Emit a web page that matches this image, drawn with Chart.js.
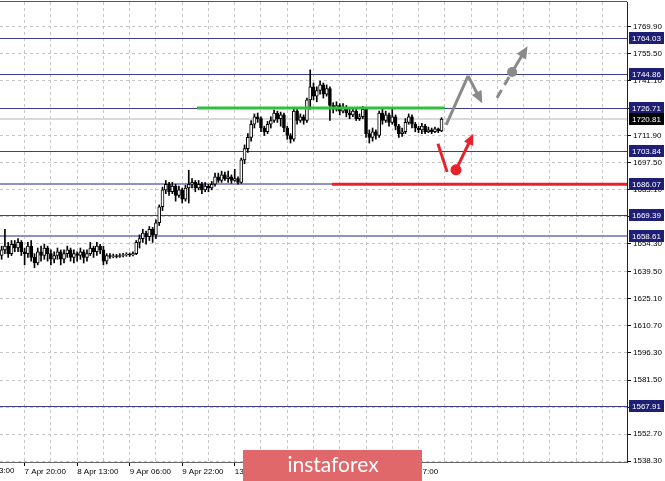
<!DOCTYPE html>
<html>
<head>
<meta charset="utf-8">
<script src="https://cdn.jsdelivr.net/npm/chart.js@4.4.0/dist/chart.umd.min.js"></script>
<style>
  html, body { margin: 0; padding: 0; background: #fff; overflow: hidden; }
  canvas { display: block; }
</style>
</head>
<body>
<canvas id="chart" width="665" height="481"></canvas>
<script>
// Hourly candles (135 bars)
const opens = [
  1648,1651,1653,1649,1654,1652,1655,1650,1649,1653,
  1647,1644,1650,1648,1652,1649,1646,1648,1650,1646,
  1649,1651,1647,1649,1648,1650,1647,1649,1652,1650,
  1653,1651,1645,1648,1647.5,1647.9,1647.5,1648,1648.4,1648.8,
  1648.3,1649,1655,1657,1660,1658,1662,1659,1665.5,1674,
  1683,1686,1682,1685,1680,1683,1678,1684,1686,1687,
  1684,1686,1683,1685,1684,1686,1690,1688,1691,1689,
  1690,1688,1689,1687,1699,1705,1711,1718,1722,1721,
  1716,1714,1718,1720,1724,1721,1723,1716,1712,1710,
  1725,1720,1722,1720,1731,1738,1733,1736,1739,1734,
  1737,1728,1726,1728,1725,1727,1724,1723,1725,1721,
  1722,1726,1713,1711,1714,1712,1724,1720,1723,1719,
  1722,1717,1713,1714,1719,1722,1718,1716,1715,1717,
  1714,1715,1714,1715.5,1714.5
];
const highs = [
  1653,1662,1655,1656,1656,1657,1656,1652,1655,1656,
  1649,1652,1653,1654,1653,1651,1650,1652,1651,1651,
  1653,1652,1651,1650,1652,1651,1651,1655,1653,1655,
  1654,1653,1649,1649,1648.8,1648.6,1649,1649.2,1649.5,1649.4,
  1650,1656,1659,1662,1661,1663.5,1663,1667,1675,1684.5,
  1688,1687,1687,1686,1685,1684,1685.5,1693.5,1689,1688,
  1688,1687,1687,1686,1687.5,1692,1692,1693,1692.5,1693,
  1691,1694,1690,1700,1707,1713,1720,1723.5,1724,1722,
  1717,1719.5,1722,1725.5,1725,1724.5,1724,1717,1713,1726,
  1726,1723.5,1723,1732,1747,1740,1738,1741,1740,1739,
  1738,1729.5,1730,1729,1729,1728,1726,1727,1726,1723.5,
  1727.5,1727,1715,1716,1715,1725,1726.5,1725,1724,1726.5,
  1723,1718,1716,1721,1723.5,1723,1719,1717,1718.5,1718,
  1716.5,1716,1716.5,1716,1721.5
];
const lows = [
  1646,1649,1647,1648,1650,1650,1648,1643,1647,1645,
  1641.5,1643,1645,1646,1645,1643,1644,1646,1643,1644,
  1647,1645,1644,1645,1646,1644,1645,1648,1647,1648,
  1649,1643,1643.5,1646.5,1646.8,1646.7,1647,1647.3,1647.6,1647.5,
  1647.8,1648.5,1652,1655,1654,1656,1655,1657,1664,1672,
  1681,1680,1681,1677,1679,1676,1677,1676,1684,1682,
  1683,1681,1682,1682,1683,1685,1687,1687,1688,1687,
  1686.5,1687.5,1686,1686.5,1697,1703,1709,1716,1719,1714,
  1712,1713,1716,1719,1719,1717,1714,1710,1708,1709,
  1718,1719,1718,1719,1726,1731,1730,1734,1732,1733,
  1720,1724,1725,1723,1724,1722,1721,1722,1720,1720,
  1721,1711,1708,1709,1710,1711,1718,1719,1717,1718,
  1715,1711,1711.5,1713,1718,1716,1714,1713.5,1713,1713,
  1713.5,1713,1713.5,1713.5,1714
];
const closes = [
  1651,1653,1649,1654,1652,1655,1650,1649,1653,1647,
  1644,1650,1648,1652,1649,1646,1648,1650,1646,1649,
  1651,1647,1649,1648,1650,1647,1649,1652,1650,1653,
  1651,1645,1648,1647.5,1647.9,1647.5,1648,1648.4,1648.8,1648.3,
  1649,1655,1657,1660,1658,1662,1659,1665.5,1674,1683,
  1686,1682,1685,1680,1683,1678,1684,1686,1687,1684,
  1686,1683,1685,1684,1686,1690,1688,1691,1689,1690,
  1688,1689,1687,1699,1705,1711,1718,1722,1721,1716,
  1714,1718,1720,1724,1721,1723,1716,1712,1710,1725,
  1720,1722,1720,1731,1738,1733,1736,1739,1734,1737,
  1728,1726,1728,1725,1727,1724,1723,1725,1721,1722,
  1726,1713,1711,1714,1712,1724,1720,1723,1719,1722,
  1717,1713,1714,1719,1722,1718,1716,1715,1717,1714,
  1715,1714,1715.5,1714.5,1720.81
];

// price axis ticks and key levels
const yTicks = [1769.90, 1755.50, 1741.10, 1726.50, 1711.90, 1697.50, 1683.10, 1668.70,
  1654.30, 1639.50, 1625.10, 1610.70, 1596.30, 1581.50, 1567.10, 1552.70, 1538.30];
const levels = [1764.03, 1744.86, 1726.71, 1703.84, 1686.07, 1669.39, 1658.61, 1567.91];
const lightLevels = [1686.07, 1658.61];
const lastPrice = 1720.81;

// time axis (bar index of each label)
const xLabelIdx = [-9, 7, 23, 39, 55, 71, 87, 103, 119];
const xLabels = ['7 Apr 03:00', '7 Apr 20:00', '8 Apr 13:00', '9 Apr 06:00', '9 Apr 22:00',
  '13 Apr 15:00', '14 Apr 08:00', '15 Apr 00:00', '15 Apr 17:00'];
const xGridIdx = [7, 15, 23, 31, 39, 47, 55, 63, 71, 79, 87, 95, 103, 111, 119, 127, 135, 143, 151, 159, 167, 175, 183];

// forecast drawing, in [bar index, price]
const greenSeg = [[59.5, 1726.71], [135, 1726.71]];
const redSeg = [[100.6, 1686.07], [191, 1686.07]];
const grayPath = [[135.4, 1717.7], [142.1, 1743.8], [146.4, 1729.2]];
const grayDash = [[150.9, 1732.1], [155.5, 1745.9]];
const grayUp = [[155.5, 1745.9], [160.2, 1759.6]];
const redDown = [[132.9, 1707.6], [135.7, 1692.6]];
const redUp = [[138.4, 1693.7], [143.7, 1712.9]];

const FONT = '8px "Liberation Sans", Arial, sans-serif';
const labelAt = v => {
  const k = xLabelIdx.indexOf(v);
  return k >= 0 ? xLabels[k] : '';
};

function arrow(ctx, from, to, color, len, half) {
  const a = Math.atan2(to[1] - from[1], to[0] - from[0]);
  const bx = to[0] - len * 0.8 * Math.cos(a), by = to[1] - len * 0.8 * Math.sin(a);
  ctx.strokeStyle = color;
  ctx.beginPath();
  ctx.moveTo(from[0], from[1]);
  ctx.lineTo(bx, by);
  ctx.stroke();
  ctx.setLineDash([]);
  ctx.fillStyle = color;
  ctx.beginPath();
  ctx.moveTo(to[0], to[1]);
  ctx.lineTo(to[0] - len * Math.cos(a) + half * Math.sin(a), to[1] - len * Math.sin(a) - half * Math.cos(a));
  ctx.lineTo(to[0] - len * Math.cos(a) - half * Math.sin(a), to[1] - len * Math.sin(a) + half * Math.cos(a));
  ctx.closePath();
  ctx.fill();
}

const overlay = {
  id: 'overlay',
  beforeDatasetsDraw(chart) {
    const { ctx, chartArea: ca, scales: { y } } = chart;
    ctx.save();
    // last price line
    const yp = Math.round(y.getPixelForValue(lastPrice));
    ctx.strokeStyle = '#dadada';
    ctx.lineWidth = 2;
    ctx.beginPath(); ctx.moveTo(ca.left, yp); ctx.lineTo(ca.right, yp); ctx.stroke();
    levels.forEach(v => {
      const light = lightLevels.includes(v);
      const py = Math.round(y.getPixelForValue(v)) + (light ? 0 : 0.5);
      ctx.strokeStyle = light ? '#8f8fcc' : '#3c3c92';
      ctx.lineWidth = light ? 2 : 1;
      ctx.beginPath(); ctx.moveTo(ca.left, py); ctx.lineTo(ca.right, py); ctx.stroke();
    });
    ctx.restore();
  },
  afterDatasetsDraw(chart) {
    const { ctx, chartArea: ca, scales: { x, y } } = chart;
    const P = d => [x.getPixelForValue(d[0]), y.getPixelForValue(d[1])];
    ctx.save();
    ctx.beginPath(); ctx.rect(ca.left, ca.top, ca.right - ca.left, ca.bottom - ca.top); ctx.clip();
    ctx.lineCap = 'butt';
    ctx.lineWidth = 3;
    // green and red levels
    [[greenSeg, '#2fbf3a'], [redSeg, '#e8222c']].forEach(([seg, c]) => {
      const a = P(seg[0]), b = P(seg[1]);
      ctx.strokeStyle = c;
      ctx.beginPath(); ctx.moveTo(a[0], a[1]); ctx.lineTo(b[0], b[1]); ctx.stroke();
    });
    // gray scenario
    const g = grayPath.map(P);
    ctx.strokeStyle = '#8a8a8a';
    ctx.beginPath(); ctx.moveTo(g[0][0], g[0][1]); ctx.lineTo(g[1][0], g[1][1]); ctx.stroke();
    arrow(ctx, g[1], g[2], '#8a8a8a', 12, 5.5);
    ctx.setLineDash([9, 6]);
    const d0 = P(grayDash[0]), d1 = P(grayDash[1]);
    ctx.beginPath(); ctx.moveTo(d0[0], d0[1]); ctx.lineTo(d1[0], d1[1]); ctx.stroke();
    ctx.setLineDash([]);
    arrow(ctx, P(grayUp[0]), P(grayUp[1]), '#8a8a8a', 12, 5.5);
    ctx.fillStyle = '#8a8a8a';
    ctx.beginPath(); ctx.arc(d1[0], d1[1], 5, 0, Math.PI * 2); ctx.fill();
    // red scenario
    const r0 = P(redDown[0]), r1 = P(redDown[1]);
    ctx.strokeStyle = '#e8222c';
    ctx.beginPath(); ctx.moveTo(r0[0], r0[1]); ctx.lineTo(r1[0], r1[1]); ctx.stroke();
    const u0 = P(redUp[0]);
    arrow(ctx, u0, P(redUp[1]), '#e8222c', 11, 5);
    ctx.fillStyle = '#e8222c';
    ctx.beginPath(); ctx.arc(u0[0], u0[1], 5.5, 0, Math.PI * 2); ctx.fill();
    ctx.restore();
  },
  afterDraw(chart) {
    const { ctx, chartArea: ca, scales: { x, y } } = chart;
    ctx.save();
    // frame top
    ctx.strokeStyle = '#555';
    ctx.lineWidth = 1;
    ctx.beginPath(); ctx.moveTo(0, ca.top - 0.5); ctx.lineTo(ca.right, ca.top - 0.5); ctx.stroke();
    ctx.font = FONT;
    ctx.textBaseline = 'middle';
    ctx.textAlign = 'left';
    // level price boxes
    levels.forEach(v => {
      const py = Math.round(y.getPixelForValue(v));
      ctx.fillStyle = '#1e1e74';
      ctx.fillRect(ca.right + 2, py - 6, 35, 12);
      ctx.fillStyle = '#fff';
      ctx.fillText(v.toFixed(2), ca.right + 5, py + 0.5);
    });
    const lp = Math.round(y.getPixelForValue(lastPrice));
    ctx.fillStyle = '#000';
    ctx.fillRect(ca.right + 2, lp - 6, 35, 12);
    ctx.fillStyle = '#fff';
    ctx.fillText(lastPrice.toFixed(2), ca.right + 5, lp + 0.5);
    // partly hidden first time label
    ctx.fillStyle = '#000';
    ctx.textBaseline = 'top';
    ctx.fillText(xLabels[0], x.getPixelForValue(xLabelIdx[0]) + 1, ca.bottom + 5);
    // watermark
    ctx.fillStyle = '#e0676a';
    ctx.fillRect(243, 450, 179, 31);
    ctx.fillStyle = '#fff';
    ctx.font = '21px Lato, "Open Sans", sans-serif';
    ctx.textAlign = 'center';
    ctx.textBaseline = 'alphabetic';
    ctx.fillText('instaforex', 333, 472);
    ctx.restore();
  }
};

const idx = closes.map((c, i) => i);

new Chart(document.getElementById('chart'), {
  type: 'bar',
  data: {
    datasets: [
      {
        label: 'wicks',
        data: idx.map(i => ({ x: i, y: [lows[i], highs[i]] })),
        backgroundColor: '#000',
        borderWidth: 0,
        barThickness: 1,
        grouped: false,
        order: 2
      },
      {
        label: 'bodies',
        data: idx.map(i => ({ x: i, y: [opens[i], closes[i]] })),
        backgroundColor: c => closes[c.dataIndex] >= opens[c.dataIndex] ? '#fff' : '#000',
        borderColor: '#000',
        borderWidth: 1,
        borderSkipped: false,
        barThickness: 3,
        grouped: false,
        order: 1
      }
    ]
  },
  options: {
    responsive: false,
    animation: false,
    devicePixelRatio: 1,
    layout: { padding: { top: 2, left: 0, right: 0, bottom: 0 } },
    plugins: { legend: { display: false }, tooltip: { enabled: false } },
    scales: {
      x: {
        type: 'linear',
        min: -0.5,
        max: 190.5,
        offset: false,
        afterBuildTicks: s => { s.ticks = xGridIdx.map(v => ({ value: v })); },
        afterFit: s => { s.height = 19; s.paddingLeft = 0; s.paddingRight = 0; },
        grid: {
          offset: false,
          color: '#c6c6c6',
          tickLength: 4,
          tickColor: c => labelAt(c.tick && c.tick.value) ? '#000' : 'rgba(0,0,0,0)'
        },
        border: { color: '#666', dash: [3, 3] },
        ticks: {
          autoSkip: false,
          maxRotation: 0,
          align: 'start',
          padding: 1,
          color: '#000',
          font: { family: '"Liberation Sans", Arial, sans-serif', size: 8 },
          callback: v => labelAt(v)
        }
      },
      y: {
        position: 'right',
        min: 1537.9,
        max: 1783.2,
        beginAtZero: false,
        afterBuildTicks: s => { s.ticks = yTicks.map(v => ({ value: v })); },
        afterFit: s => { s.width = 38; s.paddingTop = 0; s.paddingBottom = 0; },
        grid: { color: '#c6c6c6', tickLength: 4, tickColor: '#000' },
        border: { color: '#222', dash: [3, 3] },
        ticks: {
          autoSkip: false,
          padding: 2,
          color: '#000',
          font: { family: '"Liberation Sans", Arial, sans-serif', size: 8 },
          callback: v => v.toFixed(2)
        }
      }
    }
  },
  plugins: [overlay]
});
</script>
</body>
</html>
